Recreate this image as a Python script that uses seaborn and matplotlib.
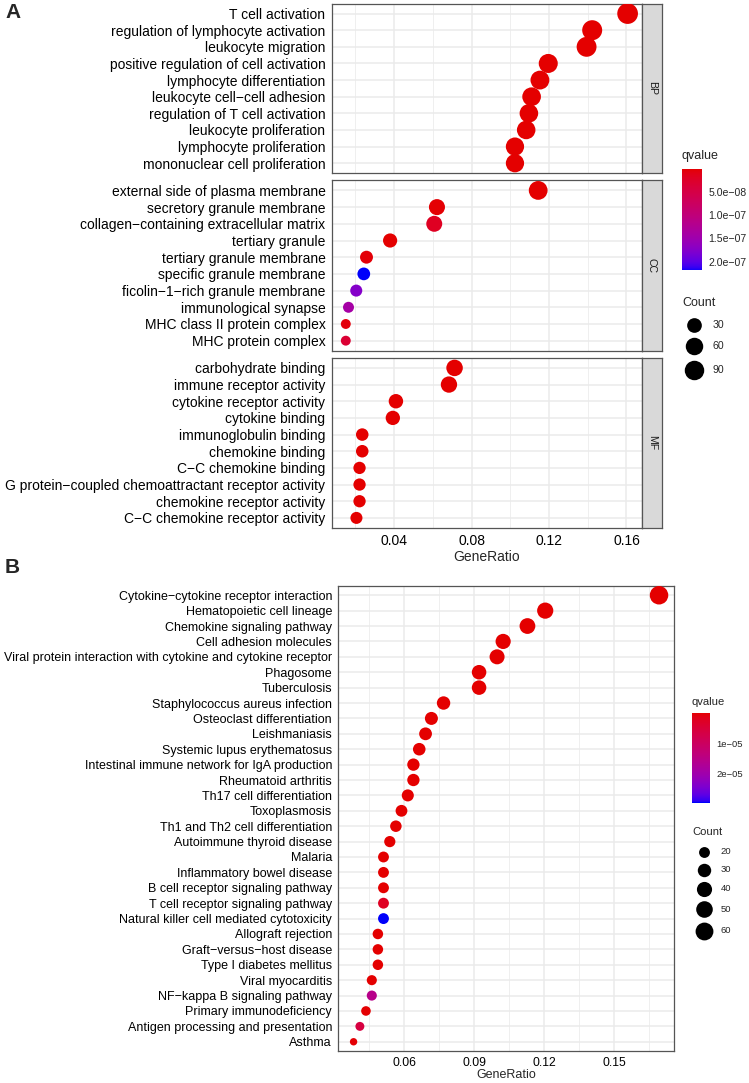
import numpy as np
import pandas as pd
import matplotlib
matplotlib.use("Agg")
import matplotlib.pyplot as plt
import seaborn as sns
from matplotlib.colors import ListedColormap, Normalize, to_rgb
from matplotlib.ticker import MultipleLocator
from matplotlib.cm import ScalarMappable

# ---------------- data ----------------
bp_terms = ["T cell activation", "regulation of lymphocyte activation", "leukocyte migration",
            "positive regulation of cell activation", "lymphocyte differentiation",
            "leukocyte cell\u2212cell adhesion", "regulation of T cell activation",
            "leukocyte proliferation", "lymphocyte proliferation", "mononuclear cell proliferation"]
bp_ratio = [0.1606, 0.1423, 0.1394, 0.1196, 0.1153, 0.1110, 0.1096, 0.1082, 0.1024, 0.1024]
bp_count = [112, 99, 97, 83, 80, 77, 76, 75, 71, 71]
bp_q = [1e-15, 2e-13, 5e-14, 1e-12, 3e-12, 2e-12, 5e-12, 4e-12, 8e-12, 9e-12]

cc_terms = ["external side of plasma membrane", "secretory granule membrane",
            "collagen\u2212containing extracellular matrix", "tertiary granule",
            "tertiary granule membrane", "specific granule membrane",
            "ficolin\u22121\u2212rich granule membrane", "immunological synapse",
            "MHC class II protein complex", "MHC protein complex"]
cc_ratio = [0.1144, 0.0621, 0.0607, 0.0379, 0.0257, 0.0243, 0.0204, 0.0164, 0.0150, 0.0150]
cc_count = [79, 43, 42, 26, 18, 17, 14, 11, 10, 10]
cc_q = [1e-13, 2e-9, 1.8e-8, 6e-10, 4e-9, 2.19e-7, 1.75e-7, 1.42e-7, 5e-9, 3.3e-8]

mf_terms = ["carbohydrate binding", "immune receptor activity", "cytokine receptor activity",
            "cytokine binding", "immunoglobulin binding", "chemokine binding",
            "C\u2212C chemokine binding", "G protein\u2212coupled chemoattractant receptor activity",
            "chemokine receptor activity", "C\u2212C chemokine receptor activity"]
mf_ratio = [0.0712, 0.0683, 0.0409, 0.0393, 0.0235, 0.0235, 0.0221, 0.0221, 0.0221, 0.0205]
mf_count = [48, 46, 28, 27, 16, 16, 15, 15, 15, 14]
mf_q = [3e-11, 1e-12, 2e-12, 4e-12, 5e-10, 2e-11, 3e-11, 4e-11, 5e-11, 2e-10]

kegg_terms = ["Cytokine\u2212cytokine receptor interaction", "Hematopoietic cell lineage",
              "Chemokine signaling pathway", "Cell adhesion molecules",
              "Viral protein interaction with cytokine and cytokine receptor", "Phagosome",
              "Tuberculosis", "Staphylococcus aureus infection", "Osteoclast differentiation",
              "Leishmaniasis", "Systemic lupus erythematosus",
              "Intestinal immune network for IgA production", "Rheumatoid arthritis",
              "Th17 cell differentiation", "Toxoplasmosis", "Th1 and Th2 cell differentiation",
              "Autoimmune thyroid disease", "Malaria", "Inflammatory bowel disease",
              "B cell receptor signaling pathway", "T cell receptor signaling pathway",
              "Natural killer cell mediated cytotoxicity", "Allograft rejection",
              "Graft\u2212versus\u2212host disease", "Type I diabetes mellitus", "Viral myocarditis",
              "NF\u2212kappa B signaling pathway", "Primary immunodeficiency",
              "Antigen processing and presentation", "Asthma"]
kegg_ratio = [0.1691, 0.1204, 0.1128, 0.1024, 0.0998, 0.0921, 0.0921, 0.0769, 0.0717, 0.0692,
              0.0665, 0.0640, 0.0640, 0.0616, 0.0589, 0.0565, 0.0539, 0.0512, 0.0512, 0.0512,
              0.0512, 0.0512, 0.0488, 0.0488, 0.0488, 0.0462, 0.0462, 0.0437, 0.0411, 0.0384]
kegg_count = [66, 47, 44, 40, 39, 36, 36, 30, 28, 27, 26, 25, 25, 24, 23, 22, 21, 20, 20, 20,
              20, 20, 19, 19, 19, 18, 18, 17, 16, 15]
kegg_q = [1e-20, 1e-15, 2e-14, 1e-14, 5e-13, 3e-12, 4e-12, 2e-11, 6e-11, 4e-10, 1e-10,
          3e-10, 5e-10, 8e-10, 1e-9, 3e-9, 5e-9, 2e-8, 3e-8, 5e-8, 2.5e-6, 2.95e-5, 4e-8,
          6e-8, 7e-8, 1e-7, 1.55e-5, 2e-7, 6e-6, 3e-7]

count_legend_a = [30, 60, 90]
count_legend_b = [20, 30, 40, 50, 60]
q_ticks_a = [5e-8, 1e-7, 1.5e-7, 2e-7]
q_ticklabels_a = ["5.0e\u221208", "1.0e\u221207", "1.5e\u221207", "2.0e\u221207"]
q_ticks_b = [1e-5, 2e-5]
q_ticklabels_b = ["1e\u221205", "2e\u221205"]

# ---------------- style ----------------
sns.set_style("white")
plt.rcParams['font.family'] = ['Liberation Sans', 'DejaVu Sans']

W, H = 749, 1083
DPI = 100
fig = plt.figure(figsize=(W / DPI, H / DPI), dpi=DPI)


def fr(x0, y0, x1, y1):
    return [x0 / W, 1 - y1 / H, (x1 - x0) / W, (y1 - y0) / H]


# red -> blue gradient interpolated in CIE Lab (like ggplot2)
def _lin(c):
    c = np.asarray(c, float)
    return np.where(c <= 0.04045, c / 12.92, ((c + 0.055) / 1.055) ** 2.4)


def _gam(c):
    c = np.clip(c, 0, 1)
    return np.where(c <= 0.0031308, 12.92 * c, 1.055 * c ** (1 / 2.4) - 0.055)


_M = np.array([[0.4124, 0.3576, 0.1805], [0.2126, 0.7152, 0.0722], [0.0193, 0.1192, 0.9505]])
_WH = np.array([0.95047, 1.0, 1.08883])


def to_lab(rgb):
    xyz = _M @ _lin(rgb) / _WH
    f = np.where(xyz > 0.008856, np.cbrt(xyz), 7.787 * xyz + 16 / 116)
    return np.array([116 * f[1] - 16, 500 * (f[0] - f[1]), 200 * (f[1] - f[2])])


def from_lab(lab):
    fy = (lab[0] + 16) / 116
    fx = fy + lab[1] / 500
    fz = fy - lab[2] / 200
    f = np.array([fx, fy, fz])
    xyz = np.where(f ** 3 > 0.008856, f ** 3, (f - 16 / 116) / 7.787) * _WH
    return _gam(np.linalg.inv(_M) @ xyz)


lab_lo, lab_hi = to_lab(to_rgb("#E40000")), to_lab(to_rgb("#0000FA"))
cmap = ListedColormap([from_lab(lab_lo + (lab_hi - lab_lo) * t) for t in np.linspace(0, 1, 256)])

GRID = "#EBEBEB"
BORDER = "#555555"


def style_axes(ax, major, minor, ylab_size):
    ax.set_facecolor("white")
    ax.xaxis.set_major_locator(MultipleLocator(major))
    ax.xaxis.set_minor_locator(MultipleLocator(minor))
    ax.grid(True, which="major", color=GRID, lw=1.1)
    ax.grid(True, which="minor", axis="x", color=GRID, lw=0.55)
    ax.set_axisbelow(True)
    for sp in ax.spines.values():
        sp.set_color(BORDER)
        sp.set_linewidth(0.9)
    ax.tick_params(axis="both", which="major", length=2.9, width=0.8, color="#333333",
                   labelcolor="black", pad=1.6)
    ax.tick_params(axis="y", labelsize=ylab_size)
    ax.tick_params(which="minor", length=0)
    ax.set_xlabel("")
    ax.set_ylabel("")


# ---------------- panel A ----------------
sz_min = min(bp_count + cc_count + mf_count)
sz_max = max(bp_count + cc_count + mf_count)


def size_a(c):
    d_px = 9.9 + 10.8 * np.sqrt((c - sz_min) / (sz_max - sz_min))
    return (d_px * 72 / DPI) ** 2


qa_all = bp_q + cc_q + mf_q
norm_a = Normalize(vmin=min(qa_all), vmax=max(qa_all))

panels_a = [("BP", bp_terms, bp_ratio, bp_count, bp_q, (3.6, 173.2)),
            ("CC", cc_terms, cc_ratio, cc_count, cc_q, (180.4, 350.7)),
            ("MF", mf_terms, mf_ratio, mf_count, mf_q, (357.9, 527.9))]

all_ratio_a = bp_ratio + cc_ratio + mf_ratio
lo, hi = min(all_ratio_a), max(all_ratio_a)
xlim_a = (lo - 0.05 * (hi - lo), hi + 0.05 * (hi - lo))

first = None
for i, (name, terms, ratio, count, q, (y0, y1)) in enumerate(panels_a):
    ax = fig.add_axes(fr(331.7, y0, 641.7, y1), sharex=first)
    if first is None:
        first = ax
    df = pd.DataFrame({"Description": terms, "GeneRatio": ratio, "Count": count, "qvalue": q})
    sizes = {c: size_a(c) for c in sorted(set(count))}
    sns.scatterplot(data=df, x="GeneRatio", y="Description", hue="qvalue", size="Count",
                    sizes=sizes, palette=cmap, hue_norm=norm_a, linewidth=0, legend=False,
                    ax=ax, zorder=3)
    style_axes(ax, 0.04, 0.02, 10)
    ax.set_xlim(*xlim_a)
    ax.set_ylim(len(terms) - 1 + 0.6, -0.6)
    if i < 2:
        ax.tick_params(axis="x", which="both", bottom=False, labelbottom=False)
    else:
        ax.tick_params(axis="x", labelsize=10)
    # facet strip
    sax = fig.add_axes(fr(641.7, y0, 661.7, y1))
    sax.set_facecolor("#D9D9D9")
    sax.set_xticks([])
    sax.set_yticks([])
    for sp in sax.spines.values():
        sp.set_color(BORDER)
        sp.set_linewidth(0.9)
    sax.text(0.5, 0.5, name, rotation=-90, ha="center", va="center", fontsize=7.6,
             color="#1A1A1A", transform=sax.transAxes)

fig.text(486.7 / W, 1 - 557 / H, "GeneRatio", ha="center", va="center", fontsize=10)
fig.text(5 / W, 1 - 12 / H, "A", ha="left", va="center", fontsize=15, fontweight="bold")

# colourbar A
cax = fig.add_axes(fr(681.7, 168.6, 701.7, 270.4))
cb = fig.colorbar(ScalarMappable(norm=norm_a, cmap=cmap), cax=cax)
cb.outline.set_visible(False)
cax.invert_yaxis()
cb.set_ticks(q_ticks_a)
cb.set_ticklabels(q_ticklabels_a)
cax.minorticks_off()
cax.tick_params(axis="y", direction="in", length=4, width=0.8, color="white", left=True,
                right=True, labelleft=False, labelright=True, labelsize=7.6, pad=5)
fig.text(681.7 / W, 1 - 156.4 / H, "qvalue", ha="left", va="center", fontsize=9)

# overlay for size legends
lax = fig.add_axes([0, 0, 1, 1])
lax.set_xlim(0, W)
lax.set_ylim(H, 0)
lax.axis("off")

fig.text(682 / W, 1 - 302.9 / H, "Count", ha="left", va="center", fontsize=9)
for c, y in zip(count_legend_a, [325, 346.4, 369.6]):
    lax.scatter([694], [y], s=size_a(c), color="black", linewidth=0)
    lax.text(712.7, y, str(c), ha="left", va="center", fontsize=7.6)

# ---------------- panel B ----------------
szb_min, szb_max = min(kegg_count), max(kegg_count)


def size_b(c):
    d_px = 7.4 + 11.1 * np.sqrt((c - szb_min) / (szb_max - szb_min))
    return (d_px * 72 / DPI) ** 2


norm_b = Normalize(vmin=min(kegg_q), vmax=max(kegg_q))
axb = fig.add_axes(fr(338.3, 586, 674.3, 1051))
dfb = pd.DataFrame({"Description": kegg_terms, "GeneRatio": kegg_ratio,
                    "Count": kegg_count, "qvalue": kegg_q})
sizes_b = {c: size_b(c) for c in sorted(set(kegg_count))}
sns.scatterplot(data=dfb, x="GeneRatio", y="Description", hue="qvalue", size="Count",
                sizes=sizes_b, palette=cmap, hue_norm=norm_b, linewidth=0, legend=False,
                ax=axb, zorder=3)
style_axes(axb, 0.03, 0.015, 9)
lo, hi = min(kegg_ratio), max(kegg_ratio)
axb.set_xlim(lo - 0.05 * (hi - lo), hi + 0.05 * (hi - lo))
axb.set_ylim(len(kegg_terms) - 1 + 0.6, -0.6)
axb.tick_params(axis="x", labelsize=8.8)

fig.text(506.3 / W, 1 - 1075 / H, "GeneRatio", ha="center", va="center", fontsize=9)
fig.text(5 / W, 1 - 567.5 / H, "B", ha="left", va="center", fontsize=15, fontweight="bold")

caxb = fig.add_axes(fr(692.3, 712.7, 710.3, 802.7))
cbb = fig.colorbar(ScalarMappable(norm=norm_b, cmap=cmap), cax=caxb)
cbb.outline.set_visible(False)
caxb.invert_yaxis()
cbb.set_ticks(q_ticks_b)
cbb.set_ticklabels(q_ticklabels_b)
caxb.minorticks_off()
caxb.tick_params(axis="y", direction="in", length=3.6, width=0.8, color="white", left=True,
                 right=True, labelleft=False, labelright=True, labelsize=6.8, pad=4.5)
fig.text(692 / W, 1 - 702 / H, "qvalue", ha="left", va="center", fontsize=8.1)

fig.text(692 / W, 1 - 831.7 / H, "Count", ha="left", va="center", fontsize=8.1)
for c, y in zip(count_legend_b, [851.7, 870, 888.7, 909, 930.7]):
    lax.scatter([703.7], [y], s=size_b(c), color="black", linewidth=0)
    lax.text(720.7, y, str(c), ha="left", va="center", fontsize=6.8)

fig.savefig("out.png", dpi=DPI)
